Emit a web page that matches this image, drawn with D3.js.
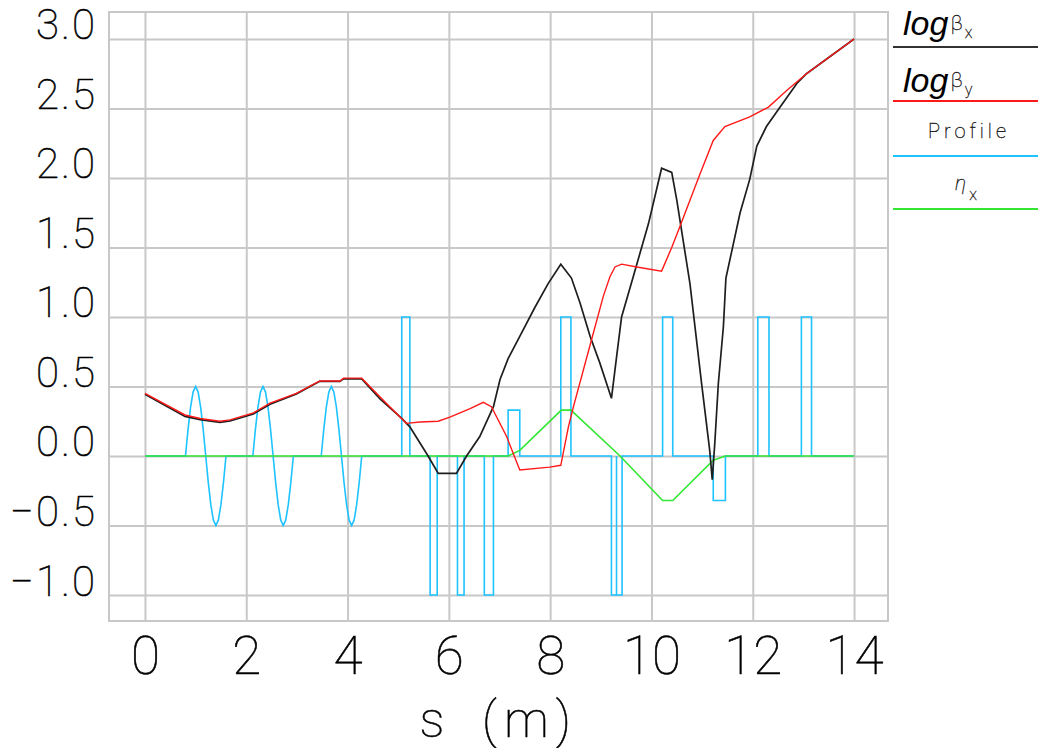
<!DOCTYPE html>
<html>
<head>
<meta charset="utf-8">
<script src="https://cdn.jsdelivr.net/npm/d3@7"></script>
<style>
  html, body { margin: 0; padding: 0; background: #ffffff; }
  svg { display: block; }
  .thin { font-family: Roboto, "DejaVu Sans", sans-serif; font-weight: 100; stroke: #000; stroke-width: 0.55; }
  .thin-s { font-family: Roboto, "DejaVu Sans", sans-serif; font-weight: 100; stroke: #222; stroke-width: 0.35; }
</style>
</head>
<body>
<svg id="chart" width="1038" height="748"></svg>
<script>
// ---------- data ----------
const xTicks = [0, 2, 4, 6, 8, 10, 12, 14];
const yTicks = [-1.0, -0.5, 0.0, 0.5, 1.0, 1.5, 2.0, 2.5, 3.0];
const xDomain = [-0.71, 14.67];
const yDomain = [-1.187, 3.194];
const xTitleParts = ["s", "(m)"];

// log beta_x  [s, value]
const betaX = [
  [0, 0.445], [0.79, 0.285], [1.09, 0.262], [1.48, 0.242], [1.68, 0.252], [2.14, 0.302],
  [2.47, 0.372], [2.99, 0.447], [3.45, 0.537], [3.85, 0.537], [3.92, 0.555], [4.28, 0.555],
  [4.64, 0.41], [5.07, 0.27], [5.23, 0.21], [5.59, 0.0], [5.79, -0.125], [6.15, -0.125],
  [6.35, 0.0], [6.61, 0.14], [6.88, 0.355], [7.01, 0.55], [7.17, 0.70], [7.40, 0.86],
  [7.70, 1.07], [7.96, 1.24], [8.21, 1.38], [8.42, 1.28], [8.59, 1.10], [8.79, 0.86],
  [8.98, 0.67], [9.21, 0.415], [9.31, 0.71], [9.41, 1.0], [9.64, 1.29], [9.94, 1.67],
  [10.20, 2.07], [10.40, 2.04], [10.50, 1.84], [10.76, 1.24], [10.99, 0.52], [11.15, 0.04],
  [11.20, -0.17], [11.25, 0.09], [11.32, 0.52], [11.42, 0.93], [11.47, 1.28], [11.75, 1.75],
  [11.94, 1.99], [12.08, 2.23], [12.27, 2.37], [12.54, 2.51], [12.87, 2.68], [13.06, 2.75],
  [14.0, 3.0]
];

// log beta_y  [s, value]
const betaY = [
  [0, 0.45], [0.79, 0.295], [1.09, 0.27], [1.48, 0.25], [1.68, 0.26], [2.14, 0.31],
  [2.47, 0.38], [2.99, 0.45], [3.45, 0.54], [3.85, 0.54], [3.92, 0.56], [4.28, 0.56],
  [4.71, 0.40], [5.16, 0.235], [5.43, 0.245], [5.79, 0.25], [6.02, 0.28], [6.42, 0.34],
  [6.68, 0.386], [6.84, 0.355], [7.14, 0.14], [7.40, -0.10], [7.99, -0.08], [8.21, -0.067],
  [8.36, 0.21], [8.46, 0.355], [8.79, 0.80], [9.05, 1.15], [9.18, 1.29], [9.28, 1.36],
  [9.41, 1.38], [9.71, 1.36], [10.20, 1.33], [10.40, 1.50], [10.56, 1.65], [10.96, 2.03],
  [11.22, 2.27], [11.45, 2.37], [11.94, 2.44], [12.31, 2.51], [12.67, 2.63], [13.06, 2.75],
  [14.0, 3.0]
];

// eta_x  [s, value]
const etaX = [
  [0, 0], [7.17, 0], [7.40, 0.04], [8.22, 0.33], [8.41, 0.33], [9.38, 0.0],
  [10.22, -0.32], [10.42, -0.32], [11.22, -0.03], [11.46, 0], [14.0, 0]
];

// Profile: sinusoidal sections [s, value]
const profileWave1 = [
  [0.80, 0], [0.85, 0.19], [0.90, 0.35], [0.95, 0.46], [1.00, 0.50], [1.05, 0.46], [1.10, 0.35],
  [1.15, 0.19], [1.20, 0], [1.25, -0.19], [1.30, -0.35], [1.35, -0.46], [1.40, -0.50],
  [1.45, -0.46], [1.50, -0.35], [1.55, -0.19], [1.60, 0]
];
const profileWave2 = [
  [2.13, 0], [2.18, 0.19], [2.23, 0.35], [2.28, 0.46], [2.33, 0.50], [2.38, 0.46], [2.43, 0.35],
  [2.48, 0.19], [2.53, 0], [2.58, -0.19], [2.63, -0.35], [2.68, -0.46], [2.73, -0.50],
  [2.78, -0.46], [2.83, -0.35], [2.88, -0.19], [2.93, 0]
];
const profileWave3 = [
  [3.48, 0], [3.53, 0.19], [3.58, 0.35], [3.63, 0.46], [3.68, 0.50], [3.73, 0.46], [3.78, 0.35],
  [3.83, 0.19], [3.88, 0], [3.93, -0.19], [3.98, -0.35], [4.03, -0.46], [4.08, -0.50],
  [4.13, -0.46], [4.18, -0.35], [4.23, -0.19], [4.28, 0]
];
// Profile: rectangular elements
const pulseStart  = [5.07, 5.63, 6.17, 6.70, 7.17, 8.21, 9.21, 9.31, 10.22, 11.22, 12.10, 12.96];
const pulseEnd    = [5.23, 5.77, 6.30, 6.88, 7.40, 8.41, 9.31, 9.42, 10.42, 11.46, 12.32, 13.16];
const pulseHeight = [1.0, -1.0, -1.0, -1.0, 0.33, 1.0, -1.0, -1.0, 1.0, -0.32, 1.0, 1.0];
const profileEnds = [0, 14];

const colors = { bx: "#1e1e1e", by: "#ff1a1a", prof: "#1ec3ff", eta: "#33e633", grid: "#c8c8c8" };

// ---------- chart ----------
const svg = d3.select("#chart");
const m = { left: 109, top: 12, right: 888, bottom: 621 };
const x = d3.scaleLinear().domain(xDomain).range([m.left, m.right]);
const y = d3.scaleLinear().domain(yDomain).range([m.bottom, m.top]);

// frame
svg.append("rect")
  .attr("x", m.left).attr("y", m.top)
  .attr("width", m.right - m.left).attr("height", m.bottom - m.top)
  .attr("fill", "none").attr("stroke", colors.grid).attr("stroke-width", 2);

// y axis with grid
const yAxis = d3.axisLeft(y).tickValues(yTicks).tickFormat(d3.format(".1f"))
  .tickSize(-(m.right - m.left)).tickSizeOuter(0).tickPadding(12);
const gy = svg.append("g").attr("transform", `translate(${m.left},0)`).call(yAxis);
gy.select(".domain").remove();
gy.selectAll(".tick line").attr("stroke", colors.grid).attr("stroke-width", 2);
gy.selectAll(".tick text")
  .attr("class", "thin")
  .attr("dy", "0")
  .attr("font-size", 42)
  .attr("letter-spacing", 2)
  .attr("fill", "#000");

// x axis with grid
const xAxis = d3.axisBottom(x).tickValues(xTicks).tickFormat(d3.format("d"))
  .tickSize(-(m.bottom - m.top)).tickSizeOuter(0);
const gx = svg.append("g").attr("transform", `translate(0,${m.bottom})`).call(xAxis);
gx.select(".domain").remove();
gx.selectAll(".tick line").attr("stroke", colors.grid).attr("stroke-width", 2);
gx.selectAll(".tick text")
  .attr("class", "thin")
  .attr("y", 53).attr("dy", "0")
  .attr("font-size", 53)
  .attr("fill", "#000");

// x title
const xt = svg.append("text")
  .attr("class", "thin")
  .attr("y", 737)
  .attr("text-anchor", "middle")
  .attr("font-size", 50)
  .attr("fill", "#000");
xt.append("tspan").attr("x", 432).text(xTitleParts[0]);
xt.append("tspan").attr("x", 530).attr("letter-spacing", 7).text(xTitleParts[1]);

// profile path
const profilePts = [[profileEnds[0], 0], ...profileWave1, ...profileWave2, ...profileWave3];
pulseStart.forEach((a, i) => {
  profilePts.push([a, 0], [a, pulseHeight[i]], [pulseEnd[i], pulseHeight[i]], [pulseEnd[i], 0]);
});
profilePts.push([profileEnds[1], 0]);

const line = d3.line().x(d => x(d[0])).y(d => y(d[1]));
const plot = svg.append("g");
plot.append("path").attr("d", line(profilePts))
  .attr("fill", "none").attr("stroke", colors.prof).attr("stroke-width", 1.6);
plot.append("path").attr("d", line(etaX))
  .attr("fill", "none").attr("stroke", colors.eta).attr("stroke-width", 1.6);
plot.append("path").attr("d", line(betaX))
  .attr("fill", "none").attr("stroke", colors.bx).attr("stroke-width", 1.7);
plot.append("path").attr("d", line(betaY))
  .attr("fill", "none").attr("stroke", colors.by).attr("stroke-width", 1.4);

// ---------- legend ----------
const lg = svg.append("g");
const legendLineY = [47, 101, 156, 209];
const legendColors = [colors.bx, colors.by, colors.prof, colors.eta];
legendLineY.forEach((ly, i) => {
  lg.append("line").attr("x1", 893).attr("x2", 1038).attr("y1", ly).attr("y2", ly)
    .attr("stroke", i === 0 ? "#333" : legendColors[i]).attr("stroke-width", 2);
});
// log beta_x / log beta_y
[["x", 35], ["y", 92]].forEach(([sub, base]) => {
  const t = lg.append("text").attr("x", 903).attr("y", base).attr("fill", "#000");
  t.append("tspan")
    .attr("font-family", "'Liberation Sans', Arial, sans-serif")
    .attr("font-style", "italic").attr("font-size", 34).text("log");
  t.append("tspan").attr("class", "thin-s").attr("dx", 2).attr("dy", -5)
    .attr("font-size", 21).attr("fill", "#222").text("β");
  t.append("tspan").attr("class", "thin-s").attr("dx", 2).attr("dy", 8)
    .attr("font-size", 16).attr("fill", "#222").text(sub);
});
// Profile
lg.append("text").attr("class", "thin-s")
  .attr("x", 969).attr("y", 138).attr("text-anchor", "middle")
  .attr("font-size", 20).attr("letter-spacing", 4).attr("fill", "#111")
  .text("Profile");
// eta_x
const te = lg.append("text").attr("x", 955).attr("y", 190).attr("fill", "#222");
te.append("tspan").attr("class", "thin-s").attr("font-size", 21).attr("font-style", "italic").text("η");
te.append("tspan").attr("class", "thin-s").attr("dx", 3).attr("dy", 10).attr("font-size", 16).text("x");
</script>
</body>
</html>
